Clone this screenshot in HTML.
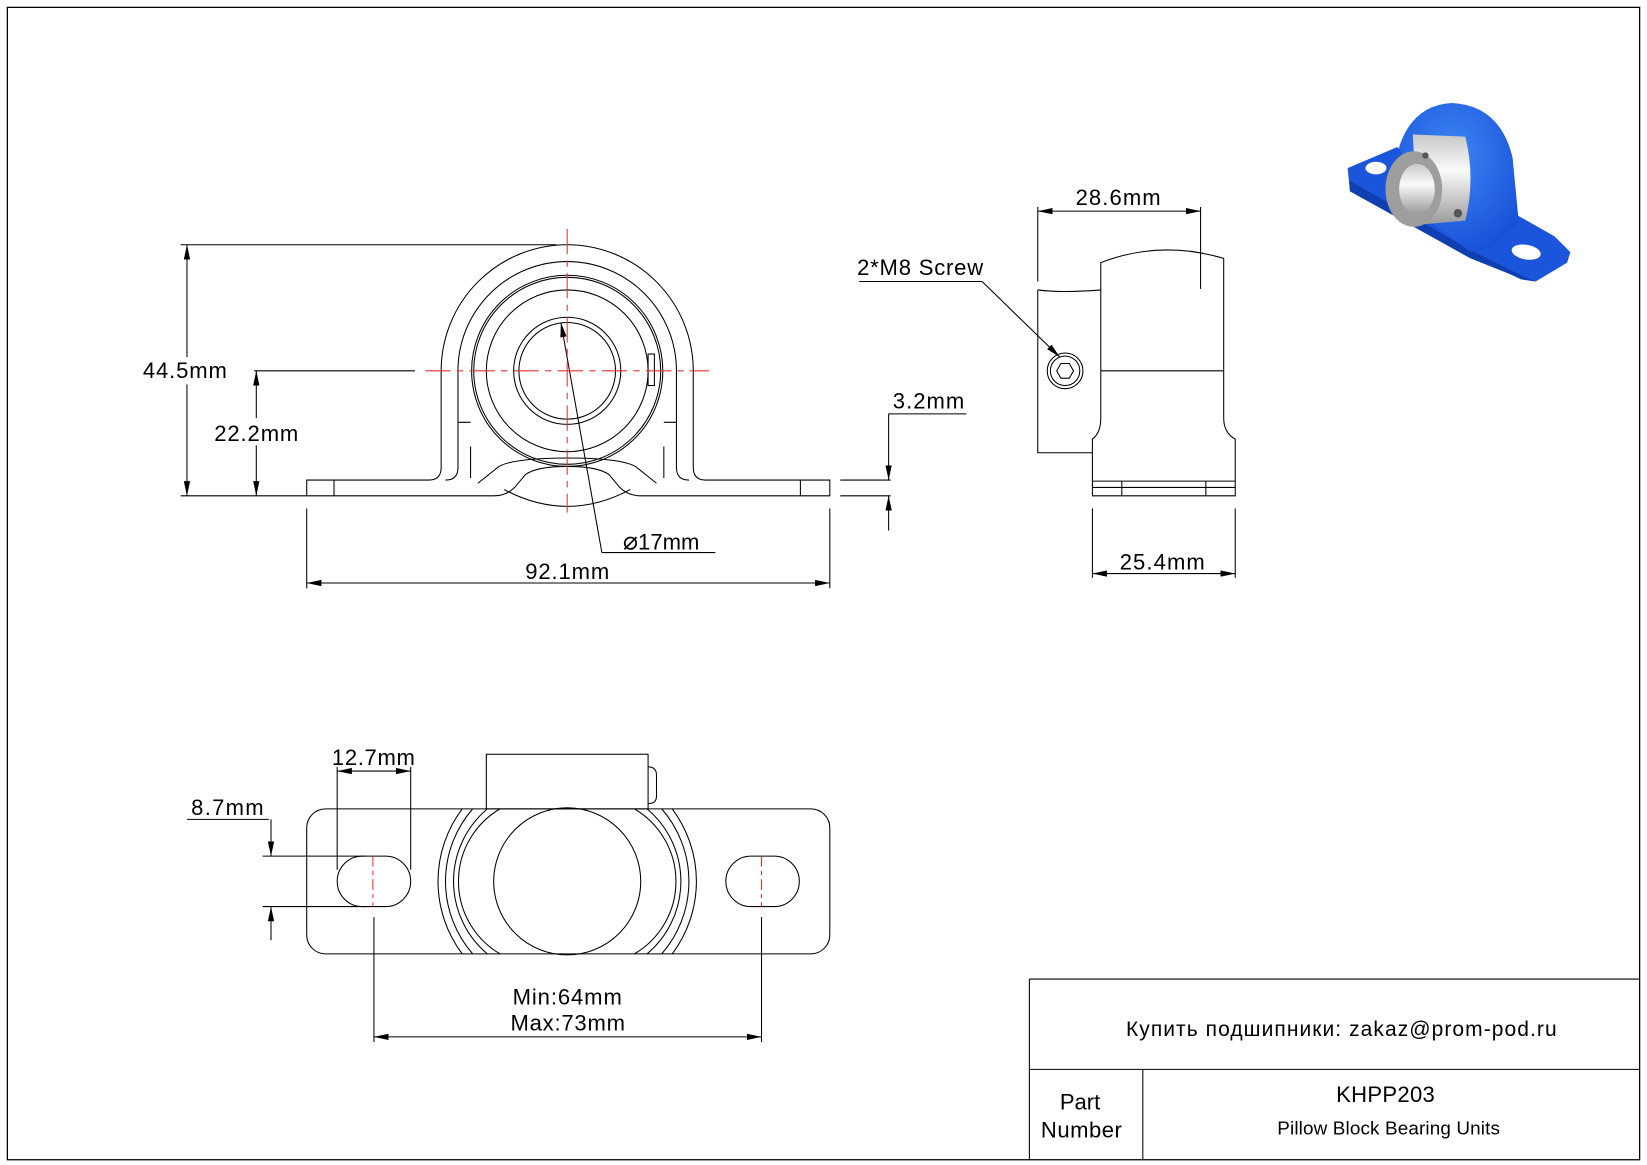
<!DOCTYPE html>
<html><head><meta charset="utf-8"><style>
html,body{margin:0;padding:0;background:#fff}
svg{display:block}
text{font-family:"Liberation Sans","DejaVu Sans",sans-serif;fill:#000}
</style></head><body>
<svg width="1647" height="1165" viewBox="0 0 1568 1109" preserveAspectRatio="none" xmlns="http://www.w3.org/2000/svg">
<defs>
<marker id="a" viewBox="0 0 14 6" refX="14" refY="3" markerWidth="14" markerHeight="6" markerUnits="userSpaceOnUse" orient="auto-start-reverse"><path d="M0,0 L14,3 L0,6 Z" fill="#000"/></marker>
<radialGradient id="blue" cx="0.45" cy="0.35" r="0.7"><stop offset="0" stop-color="#3d86f5"/><stop offset="1" stop-color="#1750d8"/></radialGradient>
<linearGradient id="steel" x1="0" y1="0" x2="0" y2="1"><stop offset="0" stop-color="#c8c8c8"/><stop offset="0.4" stop-color="#fafafa"/><stop offset="1" stop-color="#9a9a9a"/></linearGradient>
</defs>
<rect x="7" y="7" width="1554" height="1097" fill="none" stroke="#000" stroke-width="1.2"/>

<g fill="none" stroke="#000" stroke-width="1">
<!-- FRONT VIEW -->
<path d="M420,445 L420,353 A120,120 0 0 1 660,353 L660,445 Q660,457 672,457 L790,457 L790,472 L610,472 Q598,472 590,464 L580,452 Q570,444 540,444 Q510,444 500,452 L490,464 Q482,472 470,472 L292,472 L292,457 L408,457 Q420,457 420,445 Z"/>
<path d="M436,445 L436,353 A104,104 0 0 1 644,353 L644,445"/>
<path d="M436,445 Q436,457 424,457 M644,445 Q644,457 656,457"/>
<path d="M448,425 L448,455 M632,425 L632,455"/>
<path d="M436,402 L448,402 M632,402 L644,402"/>
<circle cx="540" cy="353" r="91"/>
<circle cx="540" cy="353" r="89"/>
<circle cx="540" cy="353" r="77"/>
<circle cx="540" cy="353" r="51"/>
<circle cx="540" cy="353" r="46"/>
<path d="M455,460 L475,444 Q490,436 540,436 Q590,436 605,444 L625,460"/>
<path d="M480,466 Q510,482 540,482 Q570,482 600,466"/>
<path d="M318,457 L318,472 M762,457 L762,472"/>
<rect x="617" y="337" width="6" height="30"/>
<!-- dims front -->
<line x1="172" y1="233" x2="530" y2="233"/>
<line x1="172" y1="472" x2="292" y2="472"/>
<line x1="178" y1="233" x2="178" y2="340" marker-start="url(#a)"/>
<line x1="178" y1="366" x2="178" y2="472" marker-end="url(#a)"/>
<line x1="242" y1="353" x2="395" y2="353"/>
<line x1="244" y1="353" x2="244" y2="398" marker-start="url(#a)"/>
<line x1="244" y1="424" x2="244" y2="472" marker-end="url(#a)"/>
<line x1="292" y1="484" x2="292" y2="560"/>
<line x1="790" y1="484" x2="790" y2="560"/>
<line x1="292" y1="555" x2="790" y2="555" marker-start="url(#a)" marker-end="url(#a)"/>
<line x1="534" y1="307" x2="573" y2="526" marker-start="url(#a)"/>
<line x1="573" y1="526" x2="681" y2="526"/>
<line x1="800" y1="457" x2="848" y2="457"/>
<line x1="800" y1="472" x2="848" y2="472"/>
<line x1="846" y1="394" x2="846" y2="457" marker-end="url(#a)"/>
<line x1="846" y1="505" x2="846" y2="472" marker-end="url(#a)"/>
<line x1="846" y1="394" x2="920" y2="394"/>

<!-- SIDE VIEW -->
<path d="M988,276 L988,431 L1040,431"/>
<path d="M988,276 Q1010,279 1048,276"/>
<path d="M1048,250 Q1105,228 1165,246 L1165,398 Q1165,412 1176,418 L1176,472 L1040,472 L1040,418 Q1048,412 1048,398 Z"/>
<line x1="1048" y1="353" x2="1165" y2="353"/>
<line x1="1040" y1="458" x2="1176" y2="458"/>
<line x1="1040" y1="464" x2="1176" y2="464"/>
<line x1="1068" y1="458" x2="1068" y2="472"/>
<line x1="1148" y1="458" x2="1148" y2="472"/>
<circle cx="1014" cy="353" r="17"/>
<circle cx="1014" cy="353" r="14"/>
<path d="M1006,353 L1010,346 L1018,346 L1022,353 L1018,360 L1010,360 Z"/>
<line x1="988" y1="197" x2="988" y2="268"/>
<line x1="1143" y1="197" x2="1143" y2="275"/>
<line x1="988" y1="201" x2="1143" y2="201" marker-start="url(#a)" marker-end="url(#a)"/>
<line x1="818" y1="268" x2="935" y2="268"/>
<line x1="935" y1="268" x2="1009" y2="340" marker-end="url(#a)"/>
<line x1="1040" y1="484" x2="1040" y2="550"/>
<line x1="1176" y1="484" x2="1176" y2="550"/>
<line x1="1040" y1="546" x2="1176" y2="546" marker-start="url(#a)" marker-end="url(#a)"/>

<!-- BOTTOM VIEW -->
<rect x="292" y="770" width="498" height="138" rx="18"/>
<rect x="463" y="718" width="154" height="52"/>
<path d="M617,730 Q625,730 625,738 L625,758 Q625,765 617,765"/>
<rect x="321" y="815" width="70" height="48" rx="24"/>
<rect x="691" y="815" width="70" height="48" rx="24"/>
<circle cx="540" cy="839" r="70"/>
<path d="M476,770 A80,80 0 0 0 476,908 M604,770 A80,80 0 0 1 604,908"/>
<path d="M464,770 A90,90 0 0 0 464,908 M616,770 A90,90 0 0 1 616,908"/>
<path d="M450,770 A105,105 0 0 0 450,908 M630,770 A105,105 0 0 1 630,908"/>
<path d="M440,770 A115,115 0 0 0 440,908 M640,770 A115,115 0 0 1 640,908"/>
<line x1="321" y1="730" x2="321" y2="828"/>
<line x1="391" y1="730" x2="391" y2="828"/>
<line x1="321" y1="734" x2="391" y2="734" marker-start="url(#a)" marker-end="url(#a)"/>
<line x1="178" y1="780" x2="256" y2="780"/>
<line x1="250" y1="815" x2="348" y2="815"/>
<line x1="250" y1="863" x2="348" y2="863"/>
<line x1="258" y1="780" x2="258" y2="815" marker-end="url(#a)"/>
<line x1="258" y1="895" x2="258" y2="863" marker-end="url(#a)"/>
<line x1="356" y1="873" x2="356" y2="992"/>
<line x1="725" y1="873" x2="725" y2="992"/>
<line x1="356" y1="987" x2="725" y2="987" marker-start="url(#a)" marker-end="url(#a)"/>

<!-- TITLE BLOCK -->
<path d="M980,932 L1561,932 M980,932 L980,1104 M980,1018 L1561,1018 M1088,1018 L1088,1104"/>
</g>

<!-- red center lines -->
<g stroke="#e83030" stroke-width="1" stroke-dasharray="24,6,6,6" fill="none">
<line x1="540" y1="218" x2="540" y2="488"/>
<line x1="405" y1="353" x2="675" y2="353"/>
<line x1="355" y1="815" x2="355" y2="863" stroke-dasharray="10,4,4,4"/>
<line x1="725" y1="815" x2="725" y2="863" stroke-dasharray="10,4,4,4"/>
</g>

<!-- labels -->
<g font-size="21">
<text x="136" y="360" textLength="80">44.5mm</text>
<text x="204" y="420" textLength="80">22.2mm</text>
<text x="500" y="551" textLength="80">92.1mm</text>
<text x="593" y="523"><tspan font-size="24">⌀</tspan>17mm</text>
<text x="850" y="389" textLength="68">3.2mm</text>
<text x="1024" y="195" textLength="81">28.6mm</text>
<text x="816" y="262" textLength="120">2*M8 Screw</text>
<text x="1066" y="542" textLength="81">25.4mm</text>
<text x="316" y="728" textLength="79">12.7mm</text>
<text x="182" y="776" textLength="69">8.7mm</text>
<text x="488" y="956" textLength="104">Min:64mm</text>
<text x="486" y="981" textLength="109">Max:73mm</text>
<text x="1072" y="986" font-size="20" textLength="410">Купить подшипники: zakaz@prom-pod.ru</text>
<text x="1272" y="1049" textLength="94">KHPP203</text>
<text x="1216" y="1080" font-size="18" textLength="212">Pillow Block Bearing Units</text>
<text x="1009" y="1056">Part</text>
<text x="991" y="1083" textLength="77">Number</text>
</g>

<!-- ISOMETRIC -->
<g>
<path d="M1283,160 L1330,140 L1480,225 L1495,240 L1492,250 L1462,268 L1448,266 L1400,243 L1285,180 Z" fill="#1a55dc"/>
<path d="M1285,172 L1400,238 L1448,262 L1462,268 L1450,266 L1400,246 L1285,182 Z" fill="#0f3fb0"/>
<path d="M1332,140 Q1345,100 1382,98 Q1428,100 1440,150 L1446,212 L1418,236 L1400,240 L1360,210 Z" fill="url(#blue)"/>
<ellipse cx="1453" cy="240" rx="14" ry="7" fill="#fff" transform="rotate(10 1453 240)"/>
<ellipse cx="1310" cy="160" rx="10" ry="6" fill="#fff"/>
<path d="M1345,128 L1395,130 Q1405,170 1395,210 L1350,214 Z" fill="url(#steel)"/>
<ellipse cx="1346" cy="180" rx="27" ry="36" fill="#9e9e9e"/>
<ellipse cx="1349" cy="180" rx="17" ry="24" fill="url(#steel)"/>
<circle cx="1357" cy="148" r="3" fill="#555"/>
<circle cx="1388" cy="203" r="4" fill="#555"/>
</g>
</svg>
</body></html>
